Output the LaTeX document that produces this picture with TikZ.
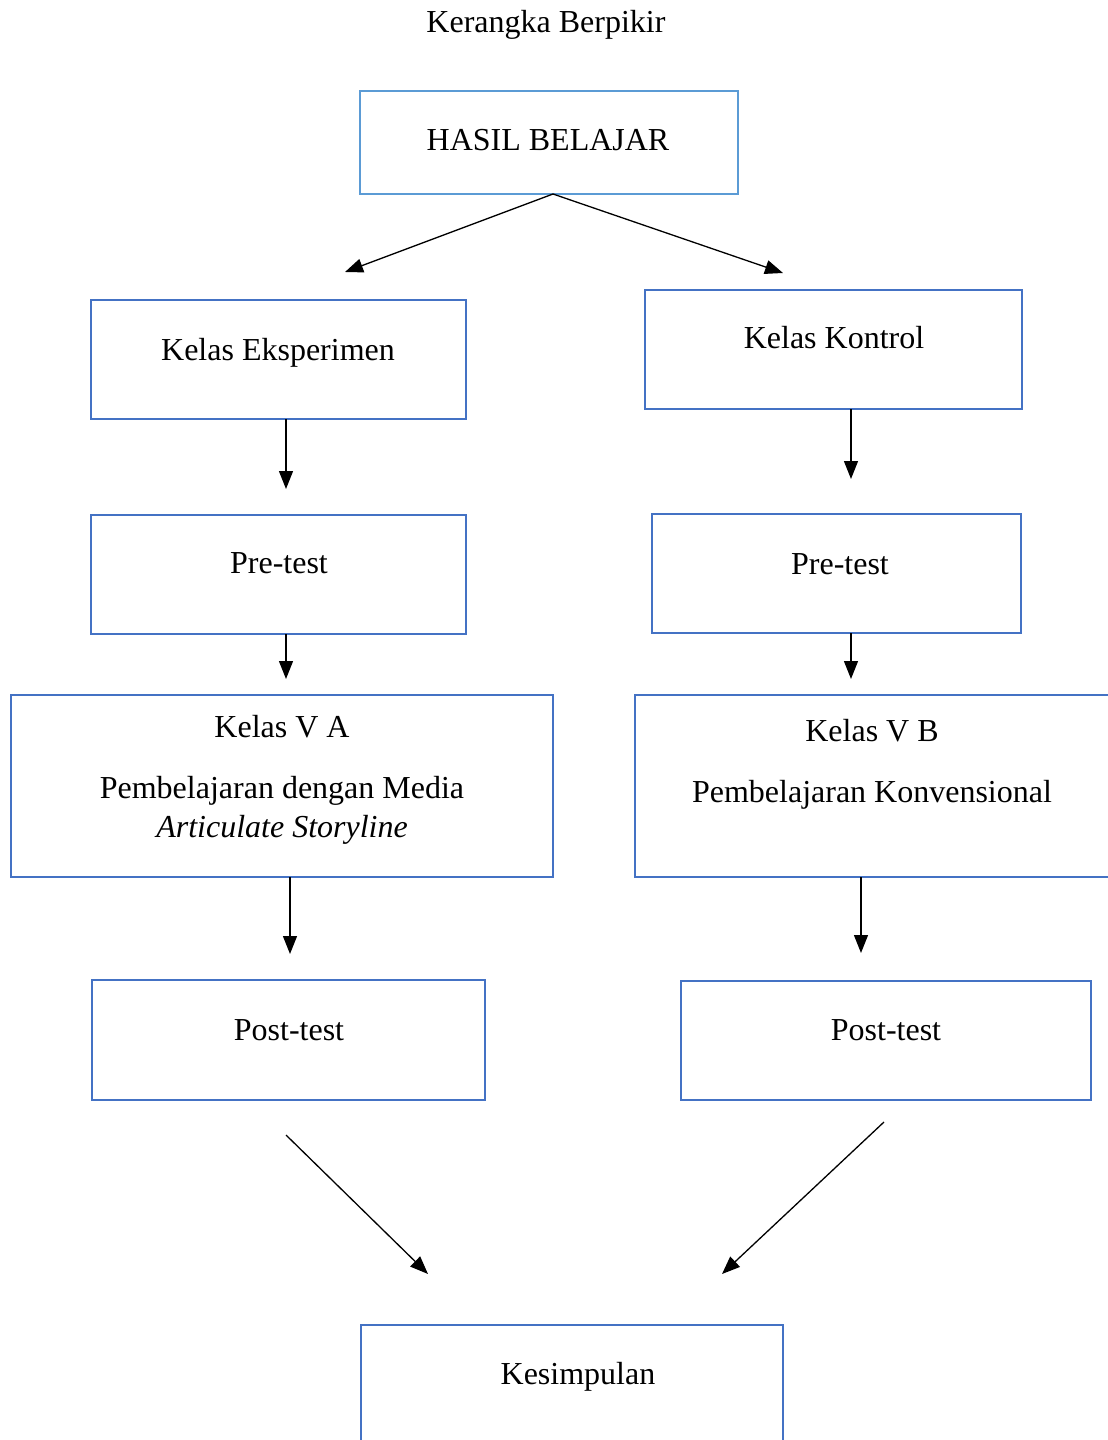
\documentclass[tikz,border=0pt]{standalone}
\usepackage{fontspec}
\setmainfont{Liberation Serif}
\usetikzlibrary{arrows.meta}
\definecolor{boxblue}{HTML}{4472C4}
\definecolor{lightblue}{HTML}{5B9BD5}
\begin{document}
\begin{tikzpicture}[x=1pt,y=-1pt,
  box/.style={draw=boxblue,line width=2.5pt,rectangle,inner sep=0pt},
  txt/.style={inner sep=0pt,text height=21pt,text depth=0pt,font=\fontsize{32}{38}\selectfont},
  arr/.style={line width=1.3pt,-{Triangle[length=18pt,width=14pt]}}]
\useasboundingbox (0,0) rectangle (1108,1440);
\clip (0,0) rectangle (1108,1440);
\fill[white] (0,0) rectangle (1108,1440);
% title
\node[txt] (title) at (546,22) {Kerangka Berpikir};
% boxes
\node[box,draw=lightblue,minimum width=378pt,minimum height=103pt] (hasil) at (549,142.5) {};
\node[box,minimum width=375pt,minimum height=119pt] (eks) at (278.5,359.5) {};
\node[box,minimum width=377pt,minimum height=119pt] (kon) at (833.5,349.5) {};
\node[box,minimum width=375pt,minimum height=119pt] (preL) at (278.5,574.5) {};
\node[box,minimum width=369pt,minimum height=119pt] (preR) at (836.5,573.5) {};
\node[box,minimum width=542pt,minimum height=182pt] (va) at (282,786) {};
\node[box,minimum width=500pt,minimum height=182pt] (vb) at (885,786) {};
\node[box,minimum width=393pt,minimum height=120pt] (postL) at (288.5,1040) {};
\node[box,minimum width=410pt,minimum height=119pt] (postR) at (886,1040.5) {};
\node[box,minimum width=422pt,minimum height=160pt] (kes) at (572,1405) {};
% texts
\node[txt] (thasil) at (548,140) {HASIL BELAJAR};
\node[txt] (teks) at (278,350) {Kelas Eksperimen};
\node[txt] (tkon) at (834,338) {Kelas Kontrol};
\node[txt] (tpreL) at (279,563) {Pre-test};
\node[txt] (tpreR) at (840,564) {Pre-test};
\node[txt] (tva1) at (282,727) {Kelas V A};
\node[txt] (tva2) at (282,788) {Pembelajaran dengan Media};
\node[txt] (tva3) at (282,827) {\itshape Articulate Storyline};
\node[txt] (tvb1) at (872,731) {Kelas V B};
\node[txt] (tvb2) at (872,792) {Pembelajaran Konvensional};
\node[txt] (tpostL) at (289,1030) {Post-test};
\node[txt] (tpostR) at (886,1030) {Post-test};
\node[txt] (tkes) at (578,1374) {Kesimpulan};
% connector end points
\coordinate (h0) at (553,194);
\coordinate (h1) at (345,272);
\coordinate (h2) at (783,273);
\coordinate (e0) at (286,419);
\coordinate (e1) at (286,489);
\coordinate (k0) at (851,409);
\coordinate (k1) at (851,479);
\coordinate (p0) at (286,634);
\coordinate (p1) at (286,679);
\coordinate (q0) at (851,633);
\coordinate (q1) at (851,679);
\coordinate (a0) at (290,877);
\coordinate (a1) at (290,954);
\coordinate (b0) at (861,877);
\coordinate (b1) at (861,953);
\coordinate (s0) at (286,1135);
\coordinate (s1) at (428,1274);
\coordinate (r0) at (884,1122);
\coordinate (r1) at (722,1274);
% connectors
\draw[arr] (h0) -- (h1);
\draw[arr] (h0) -- (h2);
\draw[arr] (e0) -- (e1);
\draw[arr] (k0) -- (k1);
\draw[arr] (p0) -- (p1);
\draw[arr] (q0) -- (q1);
\draw[arr] (a0) -- (a1);
\draw[arr] (b0) -- (b1);
\draw[arr] (s0) -- (s1);
\draw[arr] (r0) -- (r1);
\end{tikzpicture}
\end{document}
